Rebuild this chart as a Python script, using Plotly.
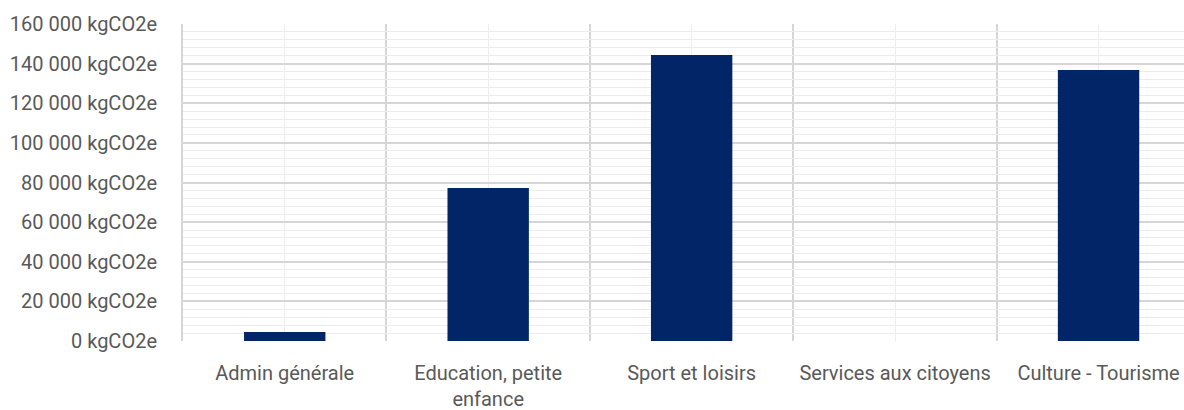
import plotly.graph_objects as go

# Émissions par catégorie de bâtiments
categories = ["Admin générale", "Education, petite<br>enfance", "Sport et loisirs",
              "Services aux citoyens", "Culture - Tourisme"]
emissions = [4500, 77200, 144300, 0, 136800]

positions = list(range(len(categories)))

fig = go.Figure(
    go.Bar(
        x=positions,
        y=emissions,
        marker=dict(color="#012566", line=dict(width=0)),
        width=0.4,
        hoverinfo="skip",
    )
)

font_family = "Roboto, 'Open Sans', sans-serif"
text_color = "#595959"

fig.update_layout(
    width=1184,
    height=410,
    margin=dict(l=183, r=0, t=24, b=69),
    paper_bgcolor="white",
    plot_bgcolor="white",
    showlegend=False,
    separators=", ",
    font=dict(family=font_family, size=20, color=text_color),
)

fig.update_xaxes(
    range=[-0.5, 4.42],
    tickmode="array",
    tickvals=positions,
    ticktext=categories,
    showgrid=True,
    gridcolor="#ededed",
    gridwidth=1,
    zeroline=False,
    showline=False,
    ticks="",
    ticklabelstandoff=18,
    tickfont=dict(size=20, color=text_color),
    minor=dict(tick0=-0.5, dtick=1, showgrid=True, gridcolor="#d6d6d6", gridwidth=2),
    fixedrange=True,
)

fig.update_yaxes(
    range=[0, 160000],
    tick0=0,
    dtick=20000,
    tickformat=",d",
    ticksuffix=" kgCO2e",
    showgrid=True,
    gridcolor="#d6d6d6",
    gridwidth=2,
    zeroline=False,
    showline=True,
    linecolor="#d6d6d6",
    linewidth=2,
    ticks="",
    ticklabelstandoff=20,
    tickfont=dict(size=20, color=text_color),
    minor=dict(dtick=4000, showgrid=True, gridcolor="#ececec", gridwidth=1),
    fixedrange=True,
)

fig.write_html("out.html")
